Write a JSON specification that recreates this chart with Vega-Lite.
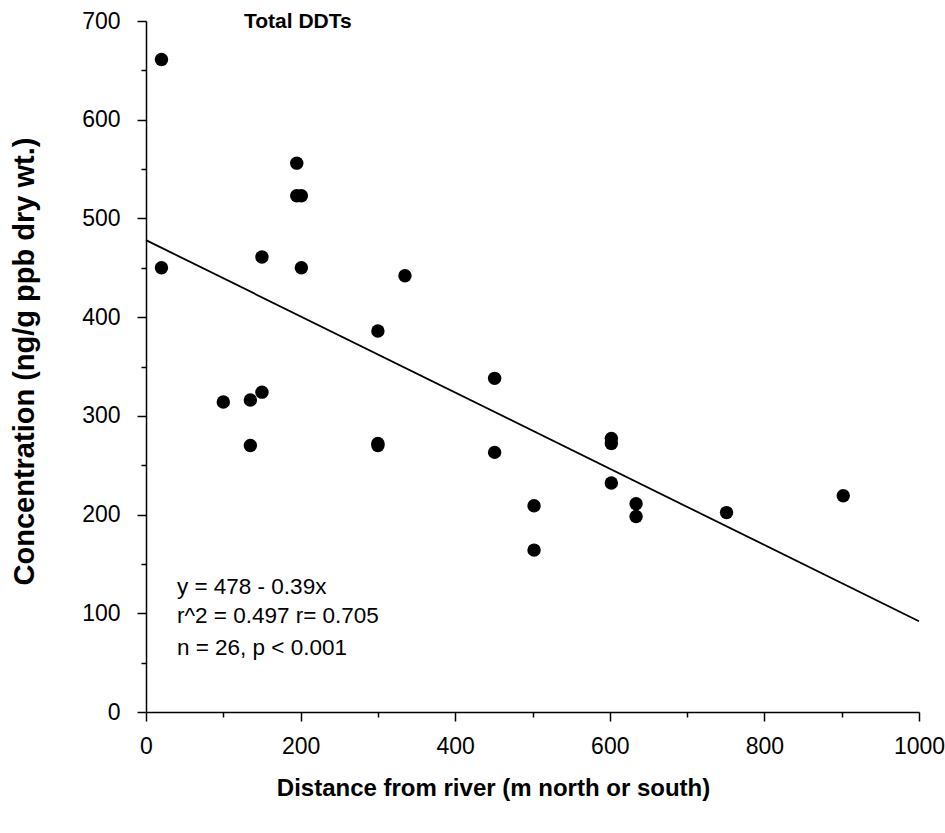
{
  "$schema": "https://vega.github.io/schema/vega-lite/v6.json",
  "autosize": "none",
  "width": 773,
  "height": 691,
  "padding": {"left": 146, "top": 21, "right": 26, "bottom": 121},
  "background": "white",
  "config": {
    "font": "Liberation Sans",
    "view": {"stroke": null},
    "axis": {
      "grid": false,
      "domainColor": "black",
      "domainWidth": 1.5,
      "tickColor": "black",
      "tickWidth": 1.5,
      "labelColor": "black",
      "labelFont": "Liberation Sans",
      "labelFontSize": 23,
      "titleColor": "black",
      "titleFont": "Liberation Sans",
      "titleFontWeight": "bold"
    }
  },
  "title": {
    "text": "Total DDTs",
    "anchor": "start",
    "frame": "group",
    "orient": "top",
    "baseline": "alphabetic",
    "offset": -39,
    "dx": 98,
    "fontSize": 21,
    "fontWeight": "bold",
    "font": "Liberation Sans",
    "color": "black"
  },
  "resolve": {"axis": {"x": "independent", "y": "independent"}},
  "layer": [
    {
      "data": {
        "values": [
          {"distance": 20, "conc": 661},
          {"distance": 20, "conc": 450},
          {"distance": 100, "conc": 314},
          {"distance": 135, "conc": 316},
          {"distance": 150, "conc": 324},
          {"distance": 135, "conc": 270},
          {"distance": 150, "conc": 461},
          {"distance": 195, "conc": 556},
          {"distance": 195, "conc": 523},
          {"distance": 201, "conc": 523},
          {"distance": 201, "conc": 450},
          {"distance": 300, "conc": 386},
          {"distance": 300, "conc": 272},
          {"distance": 300, "conc": 270},
          {"distance": 335, "conc": 442},
          {"distance": 451, "conc": 338},
          {"distance": 451, "conc": 263},
          {"distance": 502, "conc": 209},
          {"distance": 502, "conc": 164},
          {"distance": 602, "conc": 277},
          {"distance": 602, "conc": 272},
          {"distance": 602, "conc": 232},
          {"distance": 634, "conc": 211},
          {"distance": 634, "conc": 198},
          {"distance": 751, "conc": 202},
          {"distance": 902, "conc": 219}
        ]
      },
      "mark": {"type": "point", "filled": true, "color": "black", "opacity": 1, "size": 180},
      "encoding": {
        "x": {
          "field": "distance", "type": "quantitative",
          "scale": {"domain": [0, 1000], "nice": false, "zero": false},
          "axis": {
            "orient": "bottom",
            "values": [0, 200, 400, 600, 800, 1000],
            "format": "d",
            "tickSize": 9,
            "labelPadding": 14,
            "labelFlush": false,
            "labelOverlap": false,
            "title": "Distance from river (m north or south)",
            "titleFontSize": 24,
            "titleX": 347,
            "titleY": 83,
            "titleAnchor": "middle",
            "titleAlign": "center",
            "titleBaseline": "alphabetic"
          }
        },
        "y": {
          "field": "conc", "type": "quantitative",
          "scale": {"domain": [0, 700], "nice": false, "zero": false},
          "axis": {
            "orient": "left",
            "values": [0, 100, 200, 300, 400, 500, 600, 700],
            "format": "d",
            "tickSize": 9,
            "labelPadding": 17,
            "labelFlush": false,
            "labelOverlap": false,
            "title": "Concentration (ng/g ppb dry wt.)",
            "titleFontSize": 29,
            "titleX": -113,
            "titleY": 340,
            "titleAngle": -90,
            "titleAlign": "center",
            "titleBaseline": "alphabetic"
          }
        }
      }
    },
    {
      "data": {
        "values": [
          {"distance": 0, "conc": 478},
          {"distance": 1000, "conc": 92}
        ]
      },
      "mark": {"type": "line", "color": "black", "strokeWidth": 1.8},
      "encoding": {
        "x": {
          "field": "distance", "type": "quantitative",
          "axis": {
            "orient": "bottom",
            "values": [100, 300, 500, 700, 900],
            "tickSize": 5,
            "labels": false,
            "domain": false,
            "title": null
          }
        },
        "y": {
          "field": "conc", "type": "quantitative",
          "axis": {
            "orient": "left",
            "values": [50, 150, 250, 350, 450, 550, 650],
            "tickSize": 5,
            "labels": false,
            "domain": false,
            "title": null
          }
        }
      }
    },
    {
      "data": {
        "values": [
          {"label": "y = 478 - 0.39x", "distance": 40, "conc": 120},
          {"label": "r^2 = 0.497 r= 0.705", "distance": 40, "conc": 90},
          {"label": "n = 26, p < 0.001", "distance": 40, "conc": 58}
        ]
      },
      "mark": {"type": "text", "align": "left", "baseline": "alphabetic", "fontSize": 22.5, "font": "Liberation Sans", "color": "black"},
      "encoding": {
        "x": {"field": "distance", "type": "quantitative", "axis": null},
        "y": {"field": "conc", "type": "quantitative", "axis": null},
        "text": {"field": "label"}
      }
    }
  ]
}
